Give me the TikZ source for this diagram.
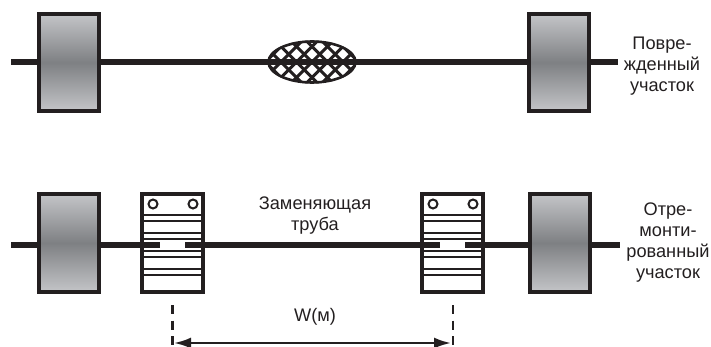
\documentclass[tikz,border=0pt]{standalone}
\usepackage{fontspec}
\setmainfont{Liberation Sans}
\usetikzlibrary{arrows.meta}
\definecolor{gl}{HTML}{C4C5C8}
\definecolor{gm}{HTML}{7E8083}
\definecolor{ink}{HTML}{231F20}
\tikzset{
  blockbox/.style={draw=ink,line width=3.8pt,top color=gl,bottom color=gl,middle color=gm,minimum width=60.2pt,minimum height=97.2pt,inner sep=0pt,anchor=north west},
  clampbox/.style={draw=ink,line width=4pt,fill=white,minimum width=61pt,minimum height=98pt,inner sep=0pt,anchor=north west},
  clampframe/.style={clampbox,fill=none},
  pipe/.style={draw=ink,line width=5.4pt},
  thin rib/.style={draw=ink,line width=2.5pt},
  hole/.style={draw=ink,line width=2pt,fill=white,circle,minimum size=9pt,inner sep=0pt},
  lab/.style={font=\fontsize{18.2pt}{21pt}\selectfont,text=ink,align=center,inner sep=0pt},
  dim/.style={draw=ink,line width=2.4pt,dash pattern=on 9pt off 6.5pt},
}
\begin{document}
\begin{tikzpicture}[x=1pt,y=-1pt]
\useasboundingbox (0,0) rectangle (711,347);
% top
\coordinate (ta) at (11,62);
\coordinate (tb) at (618,62);
\draw[pipe] (ta) -- (tb);
\node[blockbox] (b1) at (37,12) {};
\node[blockbox] (b2) at (527,12) {};
\begin{scope}
\clip (312,62) ellipse (44.5 and 21.5);
\fill[white] (262,35) rectangle (362,90);
\foreach \i in {-8,...,8}{
  \draw[ink,line width=3pt] (312+\i*15.5-30,32) -- (312+\i*15.5+30,92);
  \draw[ink,line width=3pt] (312+\i*15.5+30,32) -- (312+\i*15.5-30,92);
}
\end{scope}
\draw[ink,line width=2.6pt] (312,62) ellipse (43.5 and 20.5);
\draw[pipe] (267,62) -- (357,62);
\node[lab] (t1) at (662,66) {Повре-\\жденный\\участок};
% bottom
\coordinate (ba) at (11,245);
\coordinate (bb) at (620,245);
\draw[pipe] (ba) -- (bb);
\node[blockbox,minimum height=98.2pt] (b3) at (37,192) {};
\node[blockbox,minimum height=98.2pt] (b4) at (528,192) {};
\foreach \n/\x in {c1/140,c2/420}{
  \node[clampbox] (\n) at (\x,192) {};
  \node[hole] at (\x+13,204) {};
  \node[hole] at (\x+53,204) {};
  \foreach \y in {215,221,233,239,251,257,269,275}
    \draw[thin rib] (\x,\y) -- (\x+65,\y);
  \fill[white] (\x+3,241.5) rectangle (\x+62,248.5);
  \draw[pipe] (\x-12,245) -- (\x+20,245);
  \draw[pipe] (\x+45,245) -- (\x+77,245);
  \node[clampframe] at (\x,192) {};
}
\node[lab] (t2) at (315,216) {Заменяющая\\труба};
\node[lab] (t3) at (668,243) {Отре-\\монти-\\рованный\\участок};
% dimension
\coordinate (d1a) at (172.5,305);
\coordinate (d1b) at (172.5,345);
\coordinate (d2a) at (453,305);
\coordinate (d2b) at (453,345);
\draw[dim] (d1a) -- (d1b);
\draw[dim] (d2a) -- (d2b);
\coordinate (w1) at (174,343);
\coordinate (w2) at (451,343);
\draw[draw=ink,line width=2.4pt,{Latex[length=17pt,width=11pt]}-{Latex[length=17pt,width=11pt]}] (w1) -- (w2);
\node[lab] (t4) at (315,317) {W(м)};
\end{tikzpicture}
\end{document}
